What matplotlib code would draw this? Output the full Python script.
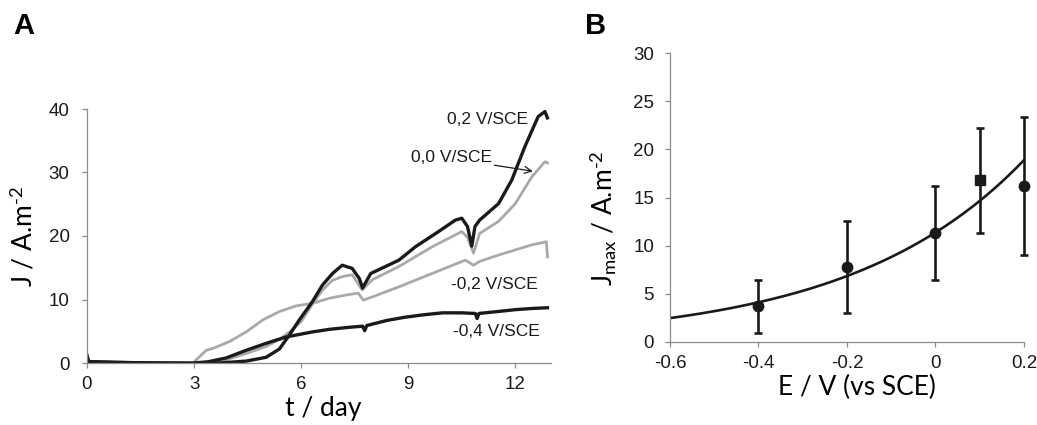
import numpy as np
import matplotlib
matplotlib.use('Agg')
import matplotlib.pyplot as plt

plt.rcParams['mathtext.fontset'] = 'custom'
plt.rcParams['mathtext.rm'] = 'Lato'
plt.rcParams['mathtext.it'] = 'Lato:italic'
plt.rcParams['mathtext.bf'] = 'Lato:bold'

# --- panel A: current density vs time for four applied potentials ---
t_02 = [0, 0.05, 0.8, 1.8, 3.0, 3.7, 4.46, 5.02, 5.39, 5.67, 5.95, 6.32, 6.6, 6.88, 7.15,
        7.43, 7.63, 7.72, 7.95, 8.74, 9.2, 9.85, 10.32, 10.5, 10.66, 10.78, 10.87, 11.0,
        11.53, 11.9, 12.27, 12.64, 12.83, 12.9]
j_02 = [1.2, 0.2, 0.1, 0.0, -0.1, 0.0, 0.3, 0.9, 2.2, 4.4, 6.8, 9.7, 12.3, 14.1, 15.4,
        14.9, 13.3, 11.8, 14.1, 16.2, 18.3, 20.7, 22.5, 22.8, 21.5, 18.4, 21.5, 22.5,
        25.1, 28.8, 34.1, 38.8, 39.6, 38.6]

t_00 = [0, 0.05, 1.0, 3.0, 3.34, 3.9, 4.46, 5.02, 5.39, 5.7, 6.0, 6.32, 6.6, 6.87, 7.15,
        7.43, 7.71, 7.99, 8.74, 9.67, 10.5, 10.66, 10.83, 11.0, 11.53, 12.0, 12.46, 12.83, 12.9]
j_00 = [0.8, 0.1, 0.0, 0.0, 0.0, 0.5, 1.5, 2.6, 3.7, 5.0, 6.5, 9.3, 11.5, 13.0, 13.6,
        13.9, 11.5, 13.1, 15.2, 18.3, 20.7, 19.8, 17.3, 20.4, 22.3, 25.1, 29.3, 31.7, 31.5]

t_m02 = [0, 0.05, 1.0, 2.97, 3.34, 3.53, 4.0, 4.46, 4.93, 5.39, 5.86, 6.32, 6.79, 7.25,
         7.6, 7.74, 7.99, 8.74, 9.67, 10.6, 10.83, 11.0, 11.53, 12.46, 12.87, 12.9]
j_m02 = [0.5, 0.1, 0.0, 0.0, 2.0, 2.3, 3.4, 4.9, 6.8, 8.1, 9.0, 9.4, 10.2, 10.7,
         11.0, 9.9, 10.4, 12.0, 14.1, 16.2, 15.4, 16.0, 17.0, 18.6, 19.1, 16.7]

t_m04 = [0, 0.05, 0.8, 1.8, 3.0, 3.4, 3.9, 4.46, 5.02, 5.58, 6.32, 6.79, 7.3, 7.72, 7.78,
         7.84, 8.4, 8.9, 9.44, 9.96, 10.5, 10.88, 10.93, 10.98, 11.5, 12.0, 12.5, 12.9]
j_m04 = [1.0, 0.2, 0.1, 0.0, 0.0, 0.2, 0.8, 2.0, 3.1, 4.1, 4.9, 5.3, 5.6, 5.8, 5.1,
         5.9, 6.7, 7.2, 7.6, 7.9, 7.9, 7.8, 7.0, 7.8, 8.1, 8.4, 8.6, 8.7]

time_ticks = [0, 3, 6, 9, 12]
j_ticks = [0, 10, 20, 30, 40]

# --- panel B: maximum current density vs potential ---
E = [-0.4, -0.2, 0.0, 0.1, 0.2]
Jmax = [3.7, 7.8, 11.3, 16.8, 16.2]
Jmax_err = [2.75, 4.75, 4.85, 5.45, 7.15]
E_ticks = [-0.6, -0.4, -0.2, 0.0, 0.2]
E_ticklabels = ['-0.6', '-0.4', '-0.2', '0', '0.2']
Jmax_ticks = [0, 5, 10, 15, 20, 25, 30]

BLACK = '#1a1a1a'
GREY = '#a9a9a9'
SPINE = '#8c8c8c'
TICKFONT = 'Liberation Sans'
LABELFONT = 'Lato'


def style_axes(ax):
    for side in ['top', 'right']:
        ax.spines[side].set_visible(False)
    for side in ['left', 'bottom']:
        ax.spines[side].set_color(SPINE)
        ax.spines[side].set_linewidth(0.9)
    ax.tick_params(axis='both', colors=SPINE, length=3.5, width=0.9,
                   labelcolor='#1a1a1a', labelsize=13.5)
    for lab in ax.get_xticklabels() + ax.get_yticklabels():
        lab.set_fontfamily(TICKFONT)


fig = plt.figure(figsize=(10.37, 4.25), dpi=100)

# panel A
axA = fig.add_axes([87 / 1037, 1 - 363 / 425, 464 / 1037, 254 / 425])
axA.plot(t_m02, j_m02, color=GREY, lw=2.0)
axA.plot(t_00, j_00, color=GREY, lw=2.0)
axA.plot(t_m04, j_m04, color=BLACK, lw=2.4)
axA.plot(t_02, j_02, color=BLACK, lw=2.4)
axA.set_xlim(0, 13)
axA.set_ylim(0, 40)
axA.set_xticks(time_ticks)
axA.set_yticks(j_ticks)
style_axes(axA)
axA.tick_params(axis='x', pad=6)
axA.tick_params(axis='y', pad=9)
axA.set_xlabel('t / day', fontsize=19, family=LABELFONT)
axA.set_ylabel(r'J / A.m$^{\text{-2}}$', fontsize=19, family=LABELFONT)
axA.xaxis.set_label_coords(0.509, -0.13)
axA.yaxis.set_label_coords(-0.106, 0.5)

ann = dict(fontsize=12.5, family=TICKFONT, color=BLACK, ha='center', va='center')
axA.text(11.23, 38.3, '0,2 V/SCE', **ann)
axA.text(11.4, 12.4, '-0,2 V/SCE', **ann)
axA.text(11.46, 4.9, '-0,4 V/SCE', **ann)
axA.annotate('0,0 V/SCE', xy=(12.49, 30.2), xytext=(10.2, 32.4),
             arrowprops=dict(arrowstyle='->', color=BLACK, lw=0.9,
                             shrinkA=0, shrinkB=0, relpos=(1.0, 0.0)),
             **ann)

fig.text(13 / 1037, 1 - 34 / 425, 'A', fontsize=21, fontweight='bold',
         family=TICKFONT, va='baseline')

# panel B
axB = fig.add_axes([670 / 1037, 1 - 342 / 425, 354 / 1037, 289 / 425])
slope, intercept = np.polyfit(E, np.log(Jmax), 1)
e_fit = np.linspace(E_ticks[0], E_ticks[-1], 200)
axB.plot(e_fit, np.exp(intercept + slope * e_fit), color=BLACK, lw=1.9, zorder=2)
markers = ['o', 'o', 'o', 's', 'o']
for e, j, err, m in zip(E, Jmax, Jmax_err, markers):
    axB.errorbar(e, j, yerr=err, fmt=m, color=BLACK, ms=7.5, lw=1.9,
                 capsize=3, capthick=1.9, zorder=3, clip_on=False)
axB.set_xlim(-0.6, 0.2)
axB.set_ylim(0, 30)
axB.set_xticks(E_ticks)
axB.set_xticklabels(E_ticklabels)
axB.set_yticks(Jmax_ticks)
style_axes(axB)
axB.tick_params(axis='x', pad=6)
axB.tick_params(axis='y', pad=8)
axB.set_xlabel('E / V (vs SCE)', fontsize=19, family=LABELFONT)
axB.set_ylabel(r'J$_{\text{max}}$ / A.m$^{\text{-2}}$', fontsize=19,
               family=LABELFONT)
axB.xaxis.set_label_coords(0.528, -0.115)
axB.yaxis.set_label_coords(-0.147, 0.43)

fig.text(585 / 1037, 1 - 34 / 425, 'B', fontsize=21, fontweight='bold',
         family=TICKFONT, va='baseline')

fig.savefig('out.png', dpi=100, facecolor='white')
